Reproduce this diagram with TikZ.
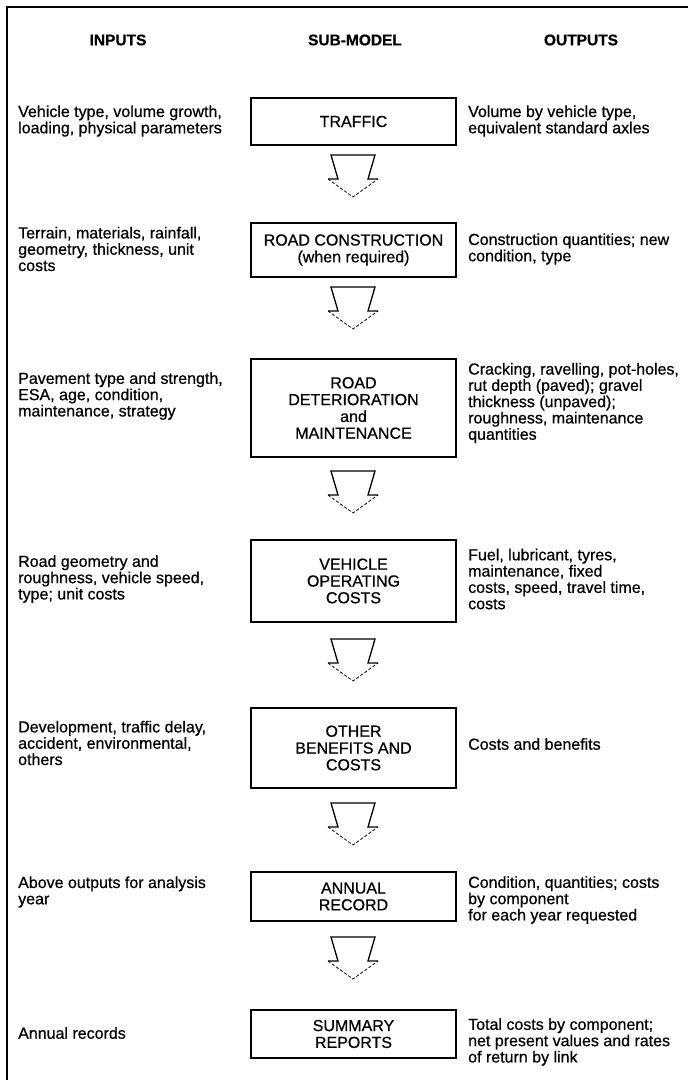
\documentclass[tikz,border=0pt]{standalone}
\usepackage{fontspec}
\setmainfont{Liberation Sans}
\newfontfamily\bodyfont[FakeBold=0.6]{Liberation Sans}
\newfontfamily\hdrfont[FakeBold=0.6]{Liberation Sans Bold}
\begin{document}
\begin{tikzpicture}[x=1pt,y=-1pt,
  hdr/.style={font=\hdrfont\fontsize{15.5}{16}\selectfont, inner sep=0pt},
  txt/.style={font=\bodyfont\fontsize{16}{16.3}\selectfont, align=left, anchor=west, inner sep=0pt},
  model/.style={draw, line width=1.4pt, minimum width=205pt, align=center,
    font=\bodyfont\fontsize{16}{16.8}\selectfont, inner sep=0pt},
  blockarrow/.pic={
    \draw[line width=1.3pt, line join=miter] (-25,24) -- (-15,24) -- (-22,0) -- (22,0) -- (15,24) -- (25,24);
    \draw[dashed, dash pattern=on 3pt off 2pt, line width=0.8pt] (-25,24) -- (0,42) -- (25,24);
  }]
\useasboundingbox (0,0) rectangle (688,1080);
\fill[white] (0,0) rectangle (688,1080);
\draw[line width=2pt] (7,1080) -- (7,7) -- (688,7);

% headers
\node[hdr] (hin) at (118,40) {INPUTS};
\node[hdr] (hsub) at (355,40) {SUB-MODEL};
\node[hdr] (hout) at (581,40) {OUTPUTS};

% sub-model boxes
\node[model, minimum height=47pt] (b1) at (353.5,121.5) {TRAFFIC};
\node[model, minimum height=54pt] (b2) at (353.5,250) {ROAD CONSTRUCTION\\(when required)};
\node[model, minimum height=98pt] (b3) at (353.5,408) {ROAD\\DETERIORATION\\and\\MAINTENANCE};
\node[model, minimum height=82pt] (b4) at (353.5,581) {VEHICLE\\OPERATING\\COSTS};
\node[model, minimum height=80pt] (b5) at (353.5,748) {OTHER\\BENEFITS AND\\COSTS};
\node[model, minimum height=49pt] (b6) at (353.5,896.5) {ANNUAL\\RECORD};
\node[model, minimum height=48pt] (b7) at (353.5,1034) {SUMMARY\\REPORTS};

% block arrows
\pic at (353,155) {blockarrow};
\pic at (353,287) {blockarrow};
\pic at (353,471) {blockarrow};
\pic at (353,639) {blockarrow};
\pic at (353,803) {blockarrow};
\pic at (353,937) {blockarrow};

% inputs
\node[txt] (i1) at (18,121) {Vehicle type, volume growth,\\loading, physical parameters};
\node[txt] (i2) at (18,249) {Terrain, materials, rainfall,\\geometry, thickness, unit\\costs};
\node[txt] (i3) at (18,396) {Pavement type and strength,\\ESA, age, condition,\\maintenance, strategy};
\node[txt] (i4) at (18,579) {Road geometry and\\roughness, vehicle speed,\\type; unit costs};
\node[txt] (i5) at (18,743) {Development, traffic delay,\\accident, environmental,\\others};
\node[txt] (i6) at (18,892) {Above outputs for analysis\\year};
\node[txt] (i7) at (18,1033) {Annual records};

% outputs
\node[txt] (o1) at (468,121) {Volume by vehicle type,\\equivalent standard axles};
\node[txt] (o2) at (468,249) {Construction quantities; new\\condition, type};
\node[txt] (o3) at (468,403) {Cracking, ravelling, pot-holes,\\rut depth (paved); gravel\\thickness (unpaved);\\roughness, maintenance\\quantities};
\node[txt] (o4) at (468,579) {Fuel, lubricant, tyres,\\maintenance, fixed\\costs, speed, travel time,\\costs};
\node[txt] (o5) at (468,744) {Costs and benefits};
\node[txt] (o6) at (468,900) {Condition, quantities; costs\\by component\\for each year requested};
\node[txt] (o7) at (468,1042) {Total costs by component;\\net present values and rates\\of return by link};
\end{tikzpicture}
\end{document}
